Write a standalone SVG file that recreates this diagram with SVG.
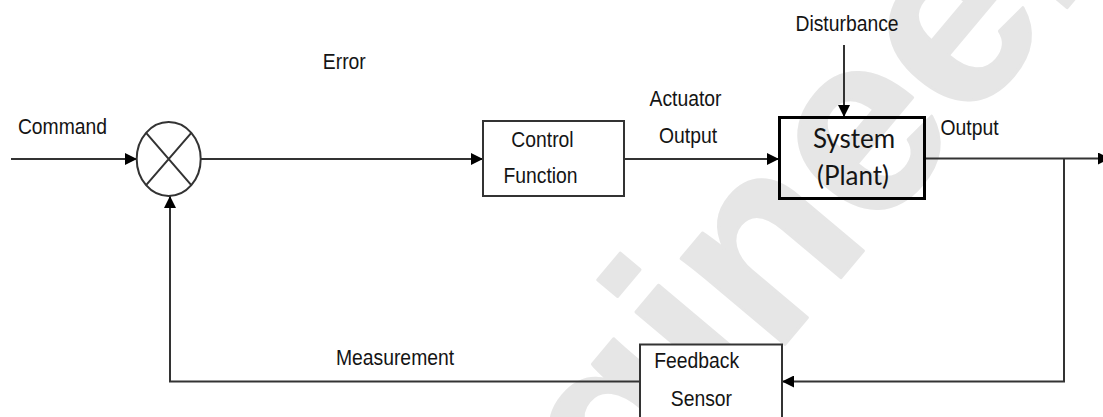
<svg xmlns="http://www.w3.org/2000/svg" width="1103" height="417" viewBox="0 0 1103 417">
  <style>
    .lbl { font-family: "Liberation Sans", Arial, sans-serif; font-size: 22.5px; fill: #141414; text-anchor: middle; }
    .sys { font-family: Lato, "Open Sans", sans-serif; font-size: 26px; fill: #141414; text-anchor: middle; }
    .wm { font-family: "Liberation Sans", Arial, sans-serif; font-weight: bold; font-size: 255px; fill: #e6e6e6; stroke: #e6e6e6; stroke-width: 3; stroke-linejoin: round; }
    .ln { fill: none; stroke: #333; stroke-width: 2; }
    .box { fill: #fff; stroke: #333; stroke-width: 2; }
  </style>
  <defs>
    <marker id="arr" markerUnits="userSpaceOnUse" markerWidth="12" markerHeight="12" refX="12" refY="6" orient="auto">
      <path d="M0,0 L12,6 L0,12 z" fill="#000"/>
    </marker>
  </defs>
  <rect width="1103" height="417" fill="#fff"/>
  <g id="watermark">
    <text class="wm" transform="translate(728,412) rotate(-50)" x="-156" y="0">gineer</text>
  </g>
  <g id="connectors">
    <path class="ln" d="M11,159 H137" marker-end="url(#arr)"/>
    <path class="ln" d="M201,159 H483" marker-end="url(#arr)"/>
    <path class="ln" d="M624,159 H779" marker-end="url(#arr)"/>
    <path class="ln" d="M844,45 V117" marker-end="url(#arr)"/>
    <path class="ln" d="M925,158.5 H1110" marker-end="url(#arr)"/>
    <path class="ln" d="M1064,158.5 V381.5 H782" marker-end="url(#arr)"/>
    <path class="ln" d="M640,381.5 H170 V196" marker-end="url(#arr)"/>
  </g>
  <g id="summing-junction">
    <ellipse cx="168.7" cy="159" rx="32" ry="37" fill="none" stroke="#333" stroke-width="2"/>
    <path class="ln" d="M146.1,132.8 L191.3,185.2 M191.3,132.8 L146.1,185.2"/>
  </g>
  <g id="control-function">
    <rect class="box" x="483" y="121" width="141" height="75"/>
    <text class="lbl" transform="translate(542.5,146.7) scale(0.86,1)">Control</text>
    <text class="lbl" transform="translate(540.5,183.3) scale(0.86,1)">Function</text>
  </g>
  <g id="system-plant">
    <rect x="779.5" y="117.5" width="145" height="81" fill="none" stroke="#000" stroke-width="3"/>
    <text class="sys" x="854" y="148">System</text>
    <text class="sys" x="853" y="185">(Plant)</text>
  </g>
  <g id="feedback-sensor">
    <rect class="box" x="640" y="344.5" width="142" height="90"/>
    <text class="lbl" transform="translate(696.7,368.3) scale(0.86,1)">Feedback</text>
    <text class="lbl" transform="translate(701.4,406) scale(0.86,1)">Sensor</text>
  </g>
  <g id="labels">
    <text class="lbl" transform="translate(62.5,134.3) scale(0.86,1)">Command</text>
    <text class="lbl" transform="translate(344.3,69.3) scale(0.86,1)">Error</text>
    <text class="lbl" transform="translate(685.5,106) scale(0.86,1)">Actuator</text>
    <text class="lbl" transform="translate(688,142.7) scale(0.86,1)">Output</text>
    <text class="lbl" transform="translate(847,30.7) scale(0.86,1)">Disturbance</text>
    <text class="lbl" transform="translate(969.5,135) scale(0.86,1)">Output</text>
    <text class="lbl" transform="translate(395,365) scale(0.86,1)">Measurement</text>
  </g>
</svg>
